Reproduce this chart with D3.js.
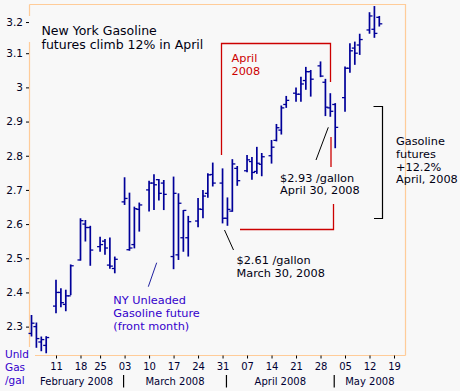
<!DOCTYPE html>
<html>
<head>
<meta charset="utf-8">
<script src="https://cdn.jsdelivr.net/npm/d3@7"></script>
<style>
  html, body { margin: 0; padding: 0; background: #f8f8f8; }
  svg { display: block; font-family: "DejaVu Sans", Verdana, sans-serif; }
</style>
</head>
<body>
<svg id="chart" width="460" height="391"></svg>
<script>
// ---------- data ----------
const dates = [
  "2008-02-04","2008-02-05","2008-02-06","2008-02-07",
  "2008-02-11","2008-02-12","2008-02-13","2008-02-14",
  "2008-02-19","2008-02-20","2008-02-21",
  "2008-02-25","2008-02-26","2008-02-27","2008-02-28",
  "2008-03-03","2008-03-04","2008-03-05","2008-03-06",
  "2008-03-10","2008-03-11","2008-03-12","2008-03-13",
  "2008-03-17","2008-03-18","2008-03-19","2008-03-20",
  "2008-03-24","2008-03-25","2008-03-26","2008-03-27",
  "2008-03-31","2008-04-01","2008-04-02","2008-04-03",
  "2008-04-07","2008-04-08","2008-04-09","2008-04-10",
  "2008-04-14","2008-04-15","2008-04-16","2008-04-17",
  "2008-04-21","2008-04-22","2008-04-23","2008-04-24",
  "2008-04-28","2008-04-29","2008-04-30","2008-05-01",
  "2008-05-05","2008-05-06","2008-05-07","2008-05-08",
  "2008-05-12","2008-05-13","2008-05-14"
];
const opens = [
  2.280,2.300,2.255,2.245,
  2.360,2.400,2.365,2.390,
  2.495,2.600,2.590,
  2.534,2.550,2.480,2.470,
  2.665,2.525,2.540,2.643,
  2.700,2.720,2.730,2.720,
  2.505,2.510,2.560,2.560,
  2.609,2.643,2.690,2.745,
  2.720,2.617,2.638,2.763,
  2.756,2.783,2.754,2.775,
  2.800,2.845,2.875,2.950,
  2.983,2.980,3.020,3.046,
  3.063,3.015,2.940,2.950,
  2.970,3.056,3.115,3.124,
  3.168,3.170,3.205
];
const highs = [
  2.334,2.312,2.271,2.272,
  2.437,2.412,2.408,2.482,
  2.617,2.612,2.595,
  2.563,2.556,2.561,2.505,
  2.737,2.692,2.651,2.663,
  2.727,2.746,2.732,2.729,
  2.739,2.690,2.641,2.624,
  2.676,2.700,2.749,2.780,
  2.763,2.678,2.790,2.770,
  2.802,2.796,2.826,2.808,
  2.846,2.893,2.947,2.975,
  3.000,3.031,3.060,3.051,
  3.076,3.025,2.983,2.954,
  3.061,3.129,3.134,3.157,
  3.220,3.238,3.209
];
const lows = [
  2.271,2.238,2.228,2.222,
  2.339,2.357,2.345,2.392,
  2.493,2.549,2.478,
  2.519,2.510,2.469,2.456,
  2.656,2.522,2.529,2.578,
  2.637,2.641,2.669,2.641,
  2.468,2.495,2.519,2.505,
  2.591,2.617,2.677,2.710,
  2.602,2.595,2.636,2.712,
  2.752,2.730,2.747,2.740,
  2.777,2.842,2.862,2.940,
  2.958,2.958,2.993,2.973,
  3.030,2.916,2.914,2.822,
  2.929,3.043,3.066,3.095,
  3.157,3.145,3.178
];
const closes = [
  2.310,2.265,2.262,2.268,
  2.400,2.370,2.390,2.478,
  2.610,2.590,2.524,
  2.540,2.530,2.477,2.497,
  2.675,2.530,2.645,2.656,
  2.720,2.715,2.690,2.687,
  2.690,2.661,2.640,2.607,
  2.644,2.682,2.744,2.720,
  2.617,2.643,2.776,2.727,
  2.788,2.751,2.778,2.797,
  2.825,2.882,2.940,2.962,
  2.980,3.010,3.046,3.024,
  3.033,2.942,2.930,2.883,
  3.056,3.107,3.100,3.140,
  3.209,3.158,3.186
];
const yTickValues = [2.3,2.4,2.5,2.6,2.7,2.8,2.9,3.0,3.1,3.2];
const yTickLabels = ["2.3","2.4","2.5","2.6","2.7","2.8","2.9","3","3.1","3.2"];
const xTickDates = ["2008-02-11","2008-02-18","2008-02-25","2008-03-03","2008-03-10","2008-03-17",
  "2008-03-24","2008-03-31","2008-04-07","2008-04-14","2008-04-21","2008-04-28",
  "2008-05-05","2008-05-12","2008-05-19"];
const monthLabels = ["February 2008","March 2008","April 2008","May 2008"];
const monthStarts = ["2008-03-01","2008-04-01","2008-05-01"];
const holidays = ["2008-02-18"];

// ---------- trading-day slots ----------
const parse = d3.utcParse("%Y-%m-%d");
const fmt = d3.utcFormat("%Y-%m-%d");
const slots = d3.utcDays(parse("2008-02-01"), parse("2008-05-31"))
  .filter(d => d.getUTCDay() !== 0 && d.getUTCDay() !== 6 && !holidays.includes(fmt(d)));
const base = slots.filter(s => s < parse("2008-02-11")).length;
function slotIndex(ds) { const d = parse(ds); return slots.filter(s => s < d).length - base; }

// ---------- layout ----------
const svg = d3.select("#chart");
const W = 460, H = 391;
const frame = {l: 29.5, r: 405.5, t: 4.5, b: 355.5};
svg.append("rect").attr("width", W).attr("height", H).attr("fill", "#f8f8f8");

const x = d3.scaleLinear().domain([0, 69]).range([56, 394]);
const y = d3.scaleLinear().domain([2.214, 3.244]).range([356, 4]);

// frame (orange)
const orange = "#ffcc99";
const fg = svg.append("g").attr("stroke", orange).attr("stroke-width", 1.2).attr("fill", "none");
fg.append("path").attr("d", `M${frame.l},${frame.t}H${frame.r}V${frame.b}`);
fg.append("path").attr("d", `M35,${frame.b}H${frame.r}`);
fg.append("path").attr("d", `M${frame.l},${frame.t}V16`);
fg.append("path").attr("d", `M${frame.l},42V347`);

// y axis
const yAxis = d3.axisLeft(y).tickValues(yTickValues)
  .tickFormat((d, i) => yTickLabels[i]).tickSize(3).tickPadding(3);
const yg = svg.append("g").attr("transform", `translate(${frame.l - 0.5},0)`).call(yAxis);
yg.select(".domain").remove();
yg.selectAll(".tick line").attr("stroke", "#000");
yg.selectAll(".tick text").attr("fill", "#000022").style("font-size", "10.5px")
  .style("font-family", "DejaVu Sans");
yg.selectAll(".tick").filter(d => d > 3.15).attr("transform", d => `translate(0,${y(d) + 3.5})`);

// x axis
const xAxis = d3.axisBottom(x)
  .tickValues(xTickDates.map(slotIndex))
  .tickFormat((d, i) => xTickDates[i].slice(8, 10))
  .tickSize(3).tickPadding(4.5);
const xg = svg.append("g").attr("transform", `translate(0,${frame.b})`).call(xAxis);
xg.select(".domain").remove();
xg.selectAll(".tick line").attr("stroke", "#000");
xg.selectAll(".tick text").attr("fill", "#000033").style("font-size", "10px")
  .style("font-family", "DejaVu Sans");

// month separators and labels
const sepX = monthStarts.map(ds => {
  const d = parse(ds); const first = slots.find(s => s >= d);
  return x(slotIndex(fmt(first))) - 1;
});
const bounds = [frame.l].concat(sepX, [frame.r]);
svg.append("g").selectAll("line").data(sepX).join("line")
  .attr("x1", d => d).attr("x2", d => d).attr("y1", 375).attr("y2", 387.5)
  .attr("stroke", "#000").attr("stroke-width", 1.2);
svg.append("g").selectAll("text").data(monthLabels).join("text")
  .attr("x", (d, i) => (bounds[i] + bounds[i + 1]) / 2).attr("y", 385)
  .attr("text-anchor", "middle").attr("fill", "#000033")
  .style("font-size", "10px").text(d => d);

// ---------- OHLC bars ----------
const bars = dates.map((d, i) => ({i: slotIndex(d), o: opens[i], h: highs[i], l: lows[i], c: closes[i]}));
const bg = svg.append("g").attr("stroke", "#000099").attr("stroke-width", 1.7);
bg.selectAll("line.hl").data(bars).join("line").attr("class", "hl")
  .attr("x1", d => x(d.i)).attr("x2", d => x(d.i))
  .attr("y1", d => y(d.h)).attr("y2", d => y(d.l));
bg.selectAll("line.o").data(bars).join("line").attr("class", "o")
  .attr("stroke-width", 1.3)
  .attr("x1", d => x(d.i) - 3).attr("x2", d => x(d.i))
  .attr("y1", d => y(d.o)).attr("y2", d => y(d.o));
bg.selectAll("line.c").data(bars).join("line").attr("class", "c")
  .attr("stroke-width", 1.3)
  .attr("x1", d => x(d.i)).attr("x2", d => x(d.i) + 3)
  .attr("y1", d => y(d.c)).attr("y2", d => y(d.c));

// ---------- annotations ----------
const red = "#cc0000";
const ag = svg.append("g").attr("fill", "none");
ag.append("path").attr("d", "M221.5,155V43.5H330.5V82").attr("stroke", red).attr("stroke-width", 1.3);
ag.append("path").attr("d", "M331,137V167").attr("stroke", red).attr("stroke-width", 1.3);
ag.append("path").attr("d", "M333.5,204V229.5H240").attr("stroke", red).attr("stroke-width", 1.3);
ag.append("path").attr("d", "M373.5,106.5H382.5V218.5H374").attr("stroke", "#000").attr("stroke-width", 1.2);
ag.append("path").attr("d", "M148.3,286.7L156.7,262.7").attr("stroke", "#2020a0").attr("stroke-width", 1);
ag.append("path").attr("d", "M224.5,230L233.5,250").attr("stroke", "#000").attr("stroke-width", 1);
ag.append("path").attr("d", "M316,160L328.3,127.3").attr("stroke", "#000").attr("stroke-width", 1);

function block(lines, x0, y0, lh, color, size) {
  const t = svg.append("text").attr("fill", color).style("font-size", size + "px");
  lines.forEach((s, k) => t.append("tspan").attr("x", x0).attr("y", y0 + k * lh).text(s));
}
block(["New York Gasoline", "futures climb 12% in April"], 41.5, 35, 13.5, "#000011", 12.5);
block(["April", "2008"], 231.5, 62, 12.5, red, 11.3);
block(["Gasoline", "futures", "+12.2%", "April, 2008"], 396, 145, 12.8, "#000011", 11.3);
block(["$2.93 /gallon", "April 30, 2008"], 280, 181.7, 12.5, "#000011", 11.3);
block(["$2.61 /gallon", "March 30, 2008"], 236.5, 264, 12.6, "#000011", 11.3);
block(["NY Unleaded", "Gasoline future", "(front month)"], 113.3, 303.5, 13.2, "#3300cc", 11.3);
block(["Unld", "Gas", "/gal"], 5, 357.5, 13.3, "#3300cc", 10.5);
</script>
</body>
</html>
